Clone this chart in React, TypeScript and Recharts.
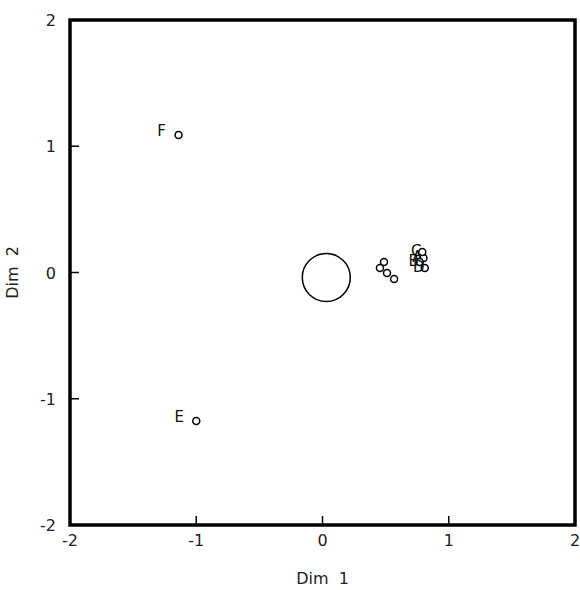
import { ScatterChart, Scatter, XAxis, YAxis, ReferenceArea } from "recharts";

// labelled stimuli
const pointNames = ["A", "B", "C", "D", "E", "F"];
const pointX = [0.8, 0.77, 0.79, 0.81, -1.0, -1.14];
const pointY = [0.115, 0.083, 0.162, 0.036, -1.176, 1.09];

// unlabelled points in the small cluster
const clusterX = [0.487, 0.455, 0.511, 0.567];
const clusterY = [0.083, 0.036, -0.004, -0.051];

// the big circle
const centerX = [0.03];
const centerY = [-0.04];

const ticks = [-2, -1, 0, 1, 2];

const font = "'DejaVu Sans', sans-serif";

const labelled = pointNames.map((name, i) => ({ x: pointX[i], y: pointY[i], name }));
const cluster = clusterX.map((x, i) => ({ x, y: clusterY[i] }));
const center = centerX.map((x, i) => ({ x, y: centerY[i] }));

const XTick = (props: any) => {
  const { x, y, payload } = props;
  return (
    <g>
      <line x1={x} x2={x} y1={y} y2={y - 9} stroke="#000" strokeWidth={1.5} />
      <text x={x} y={y + 21} textAnchor="middle" fontSize={16} fontFamily={font} fill="#222">
        {payload.value}
      </text>
    </g>
  );
};

const YTick = (props: any) => {
  const { x, y, payload } = props;
  return (
    <g>
      <line x1={x} x2={x + 9} y1={y} y2={y} stroke="#000" strokeWidth={1.5} />
      <text x={x - 14} y={y + 6} textAnchor="end" fontSize={16} fontFamily={font} fill="#222">
        {payload.value}
      </text>
    </g>
  );
};

const LabelledDot = (props: any) => {
  const { cx, cy, payload } = props;
  // labels in the tight cluster sit almost on top of their markers
  const inCluster = payload.x > 0;
  return (
    <g>
      <circle cx={cx} cy={cy} r={3.5} fill="#fff" stroke="#000" strokeWidth={1.5} />
      <text
        x={inCluster ? cx - 6 : cx - 17}
        y={inCluster ? cy + 4 : cy + 1}
        textAnchor="middle"
        fontSize={15}
        fontFamily={font}
        fill="#111"
      >
        {payload.name}
      </text>
    </g>
  );
};

const SmallDot = (props: any) => (
  <circle cx={props.cx} cy={props.cy} r={3.5} fill="#fff" stroke="#000" strokeWidth={1.5} />
);

const BigDot = (props: any) => (
  <circle cx={props.cx} cy={props.cy} r={24} fill="none" stroke="#000" strokeWidth={1.5} />
);

export default function App() {
  return (
    <div style={{ position: "absolute", left: 0, top: 0, background: "#fff" }}>
      <ScatterChart width={580} height={590} margin={{ top: 20, right: 5, bottom: 5, left: 10 }}>
        <XAxis
          type="number"
          dataKey="x"
          domain={[-2, 2]}
          ticks={ticks}
          allowDataOverflow
          height={60}
          axisLine={false}
          tickLine={false}
          tickSize={0}
          tickMargin={0}
          tick={<XTick />}
          label={{
            content: (p: any) => (
              <text
                x={p.viewBox.x + p.viewBox.width / 2}
                y={p.viewBox.y + 59}
                textAnchor="middle"
                fontSize={16}
                fontFamily={font}
                fill="#222"
                style={{ whiteSpace: "pre" }}
              >
                {"Dim  1"}
              </text>
            ),
          }}
        />
        <YAxis
          type="number"
          dataKey="y"
          domain={[-2, 2]}
          ticks={ticks}
          allowDataOverflow
          width={60}
          axisLine={false}
          tickLine={false}
          tickSize={0}
          tickMargin={0}
          tick={<YTick />}
          label={{
            content: (p: any) => {
              const cx = 18;
              const cy = p.viewBox.y + p.viewBox.height / 2;
              return (
                <text
                  x={cx}
                  y={cy}
                  transform={`rotate(-90 ${cx} ${cy})`}
                  textAnchor="middle"
                  fontSize={16}
                  fontFamily={font}
                  fill="#222"
                  style={{ whiteSpace: "pre" }}
                >
                  {"Dim  2"}
                </text>
              );
            },
          }}
        />
        <ReferenceArea x1={-2} x2={2} y1={-2} y2={2} fill="none" stroke="#000" strokeWidth={3.5} />
        <Scatter data={center} shape={<BigDot />} isAnimationActive={false} />
        <Scatter data={cluster} shape={<SmallDot />} isAnimationActive={false} />
        <Scatter data={labelled} shape={<LabelledDot />} isAnimationActive={false} />
      </ScatterChart>
    </div>
  );
}
